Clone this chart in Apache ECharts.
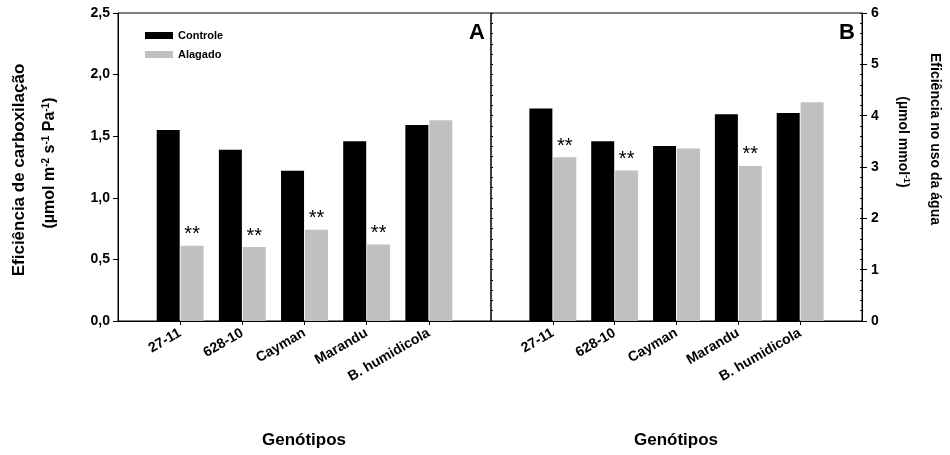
<!DOCTYPE html>
<html>
<head>
<meta charset="utf-8">
<script src="https://cdn.jsdelivr.net/npm/echarts@6/dist/echarts.min.js"></script>
<style>
  html, body { margin: 0; padding: 0; background: #fff; }
  #chart { width: 950px; height: 455px; }
</style>
</head>
<body>
<div id="chart"></div>
<script>
// Genotypes on the x axis of both panels
const genotypes = ['27-11', '628-10', 'Cayman', 'Marandu', 'B. humidicola'];

// Panel A: carboxylation efficiency (µmol m-2 s-1 Pa-1)
const carboxControle = [1.55, 1.39, 1.22, 1.46, 1.59];
const carboxAlagado  = [0.61, 0.60, 0.74, 0.62, 1.63];
const carboxSig      = [true, true, true, true, false];
const carboxTicks    = [0, 0.5, 1.0, 1.5, 2.0, 2.5];

// Panel B: water use efficiency (µmol mmol-1)
const wueControle = [4.14, 3.50, 3.41, 4.03, 4.05];
const wueAlagado  = [3.19, 2.93, 3.36, 3.02, 4.26];
const wueSig      = [true, true, false, true, false];
const wueTicks    = [0, 1, 2, 3, 4, 5, 6];

const FONT = 'Liberation Sans, Arial, sans-serif';
const GREY = '#c0c0c0';

// one empty slot on each side so the five genotypes sit at positions 1..5 of 0..6
const slots = [''].concat(genotypes, ['']);
const pad = arr => ['-'].concat(arr, ['-']);

function xAxisFor(gridIndex) {
  return {
    type: 'category', gridIndex, data: slots, boundaryGap: false,
    axisLine: { lineStyle: { color: '#000', width: 1 } },
    axisTick: { length: 4, interval: (i, v) => v !== '', lineStyle: { color: '#000' } },
    axisLabel: { interval: 0, rotate: 30, margin: 11, color: '#000', fontFamily: FONT,
                 fontWeight: 'bold', fontSize: 14 },
    splitLine: { show: false }
  };
}

// extra tick-only axes for the short inward minor ticks of panel B
function minorAxis(gridIndex, position, max) {
  return {
    type: 'value', gridIndex, position, min: 0, max, interval: 0.2,
    axisLine: { show: false }, axisLabel: { show: false }, splitLine: { show: false },
    axisTick: { show: true, inside: true, length: 2, lineStyle: { color: '#000' } }
  };
}

function starLabel(sig) {
  return {
    show: true, position: 'top', distance: 1, color: '#000', fontFamily: FONT,
    fontSize: 20, formatter: p => (sig[p.dataIndex - 1] ? '**' : '')
  };
}

const chart = echarts.init(document.getElementById('chart'));
chart.setOption({
  animation: false,
  backgroundColor: '#fff',
  grid: [
    { left: 118, top: 13, width: 373, height: 308, show: true, borderColor: '#000', borderWidth: 1 },
    { left: 491, top: 13, width: 371, height: 308, show: true, borderColor: '#000', borderWidth: 1 }
  ],
  legend: {
    data: ['Controle', 'Alagado'], orient: 'vertical', left: 140, top: 25,
    itemWidth: 28, itemHeight: 7, itemGap: 8, icon: 'rect',
    textStyle: { fontFamily: FONT, fontWeight: 'bold', fontSize: 11, color: '#000' }
  },
  xAxis: [xAxisFor(0), xAxisFor(1)],
  yAxis: [
    {
      type: 'value', gridIndex: 0, position: 'left',
      min: carboxTicks[0], max: carboxTicks[carboxTicks.length - 1],
      interval: carboxTicks[1] - carboxTicks[0],
      axisLine: { show: true, lineStyle: { color: '#000' } },
      axisTick: { show: true, length: 5, lineStyle: { color: '#000' } },
      axisLabel: { color: '#000', fontFamily: FONT, fontWeight: 'bold', fontSize: 14, margin: 8,
                   formatter: v => v.toFixed(1).replace('.', ',') },
      splitLine: { show: false }
    },
    {
      type: 'value', gridIndex: 1, position: 'right',
      min: wueTicks[0], max: wueTicks[wueTicks.length - 1],
      interval: wueTicks[1] - wueTicks[0],
      axisLine: { show: true, lineStyle: { color: '#000' } },
      axisTick: { show: true, length: 5, lineStyle: { color: '#000' } },
      axisLabel: { color: '#000', fontFamily: FONT, fontWeight: 'bold', fontSize: 14, margin: 9 },
      splitLine: { show: false }
    },
    minorAxis(1, 'right', wueTicks[wueTicks.length - 1]),
    minorAxis(1, 'left', wueTicks[wueTicks.length - 1])
  ],
  series: [
    { name: 'Controle', type: 'bar', xAxisIndex: 0, yAxisIndex: 0, data: pad(carboxControle),
      barWidth: 23, barGap: '4%', itemStyle: { color: '#000' } },
    { name: 'Alagado', type: 'bar', xAxisIndex: 0, yAxisIndex: 0, data: pad(carboxAlagado),
      barWidth: 23, barGap: '4%', itemStyle: { color: GREY }, label: starLabel(carboxSig) },
    { name: 'Controle', type: 'bar', xAxisIndex: 1, yAxisIndex: 1, data: pad(wueControle),
      barWidth: 23, barGap: '4%', itemStyle: { color: '#000' } },
    { name: 'Alagado', type: 'bar', xAxisIndex: 1, yAxisIndex: 1, data: pad(wueAlagado),
      barWidth: 23, barGap: '4%', itemStyle: { color: GREY }, label: starLabel(wueSig) }
  ],
  graphic: [
    { type: 'text', x: 477, y: 33, style: { text: 'A', fontFamily: FONT, fontWeight: 'bold',
      fontSize: 22, fill: '#000', align: 'center', verticalAlign: 'middle' } },
    { type: 'text', x: 847, y: 33, style: { text: 'B', fontFamily: FONT, fontWeight: 'bold',
      fontSize: 22, fill: '#000', align: 'center', verticalAlign: 'middle' } },
    { type: 'text', x: 304, y: 440, style: { text: 'Genótipos', fontFamily: FONT, fontWeight: 'bold',
      fontSize: 17, fill: '#000', align: 'center', verticalAlign: 'middle' } },
    { type: 'text', x: 676, y: 440, style: { text: 'Genótipos', fontFamily: FONT, fontWeight: 'bold',
      fontSize: 17, fill: '#000', align: 'center', verticalAlign: 'middle' } },
    { type: 'text', x: 19, y: 170, rotation: Math.PI / 2, style: {
      text: 'Eficiência de carboxilação', fontFamily: FONT, fontWeight: 'bold',
      fontSize: 17, fill: '#000', align: 'center', verticalAlign: 'middle' } },
    { type: 'text', x: 50, y: 163, rotation: Math.PI / 2, style: {
      text: '(µmol m{sup|-2} s{sup|-1} Pa{sup|-1})', fontFamily: FONT, fontWeight: 'bold',
      fontSize: 16, fill: '#000', align: 'center', verticalAlign: 'middle',
      rich: { sup: { fontFamily: FONT, fontWeight: 'bold', fontSize: 10, fill: '#000',
                     verticalAlign: 'top', lineHeight: 18 } } } },
    { type: 'text', x: 935, y: 139, rotation: -Math.PI / 2, style: {
      text: 'Eficiência no uso da água', fontFamily: FONT, fontWeight: 'bold',
      fontSize: 14, fill: '#000', align: 'center', verticalAlign: 'middle' } },
    { type: 'text', x: 903, y: 142, rotation: -Math.PI / 2, style: {
      text: '(µmol mmol{sup|-1})', fontFamily: FONT, fontWeight: 'bold',
      fontSize: 14, fill: '#000', align: 'center', verticalAlign: 'middle',
      rich: { sup: { fontFamily: FONT, fontWeight: 'bold', fontSize: 9, fill: '#000',
                     verticalAlign: 'top', lineHeight: 16 } } } }
  ]
});
</script>
</body>
</html>
